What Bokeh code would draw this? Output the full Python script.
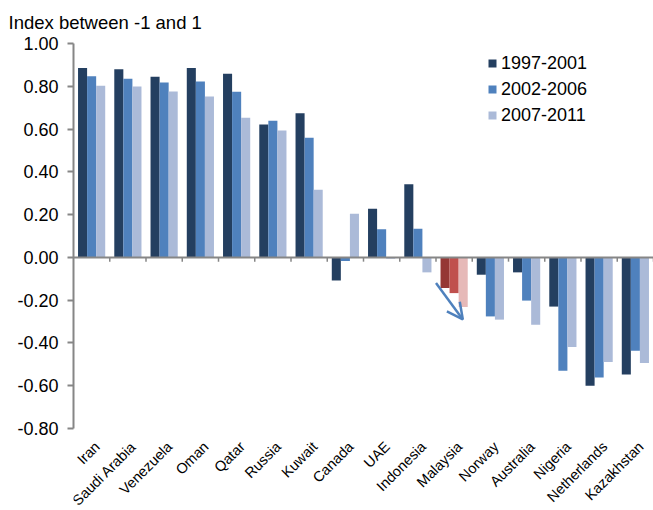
import numpy as np
from math import pi
from bokeh.plotting import figure
from bokeh.models import (Range1d, FixedTicker, NumeralTickFormatter, LinearAxis, Span,
                          Legend, LegendItem, Arrow, OpenHead, ColumnDataSource)
from bokeh.core.properties import value
from bokeh.embed import file_html
from bokeh.resources import INLINE

# ---------------- data ----------------
categories = ["Iran", "Saudi Arabia", "Venezuela", "Oman", "Qatar", "Russia", "Kuwait",
              "Canada", "UAE", "Indonesia", "Malaysia", "Norway", "Australia", "Nigeria",
              "Netherlands", "Kazakhstan"]
series_names = ["1997-2001", "2002-2006", "2007-2011"]
v_1997_2001 = [0.886, 0.880, 0.844, 0.886, 0.858, 0.621, 0.674, -0.108, 0.227, 0.342,
               -0.143, -0.081, -0.070, -0.230, -0.600, -0.548]
v_2002_2006 = [0.847, 0.835, 0.818, 0.822, 0.774, 0.639, 0.559, -0.017, 0.132, 0.134,
               -0.167, -0.276, -0.202, -0.530, -0.562, -0.436]
v_2007_2011 = [0.802, 0.799, 0.776, 0.752, 0.653, 0.593, 0.316, 0.204, -0.006, -0.070,
               -0.232, -0.291, -0.315, -0.419, -0.489, -0.494]
y_ticks = [-0.8, -0.6, -0.4, -0.2, 0.0, 0.2, 0.4, 0.6, 0.8, 1.0]
highlight = "Malaysia"
title_text = "Index between -1 and 1"

# annotation arrow (data coordinates)
arrow_start = (10.0, -0.12)
arrow_end = (10.74, -0.29)

# ---------------- style / layout ----------------
blues = ["#243F60", "#4F81BD", "#ABBAD8"]
reds = ["#953735", "#C0504D", "#E6B9B8"]
axis_gray = "#868686"
FONT = "Liberation Sans"
W, H = 653, 510
FRAME_TOP, LEFT = 40, 73     # frame top / left in px
TICK_TOP_PX, TICK_BOTTOM_PX = 43, 428   # pixel rows of highest / lowest y tick
units_per_px = (y_ticks[-1] - y_ticks[0]) / (TICK_BOTTOM_PX - TICK_TOP_PX)
y_lo = y_ticks[0] - (H - TICK_BOTTOM_PX) * units_per_px
y_hi = y_ticks[-1] + (TICK_TOP_PX - FRAME_TOP) * units_per_px

n = len(categories)
idx = np.arange(n)
centers = idx + 0.5

p = figure(width=W, height=H, output_backend="svg", toolbar_location=None,
           x_range=Range1d(0, n), y_range=Range1d(y_lo, y_hi),
           min_border_left=LEFT, min_border_right=0, min_border_top=FRAME_TOP,
           min_border_bottom=0, x_axis_location=None, y_axis_location=None)
p.outline_line_color = None
p.xgrid.visible = False
p.ygrid.visible = False

# title
p.title.text = title_text
p.title.text_font = FONT
p.title.text_font_size = "18.5px"
p.title.text_font_style = "normal"
p.title.text_color = "#000000"
p.title.align = "left"
p.title.offset = -65
p.title.standoff = 16

# y axis (limited to the tick span)
yaxis = LinearAxis(ticker=FixedTicker(ticks=y_ticks),
                   formatter=NumeralTickFormatter(format="0.00"),
                   bounds=(y_ticks[0], y_ticks[-1]))
yaxis.axis_line_color = axis_gray
yaxis.axis_line_width = 2
yaxis.major_tick_line_color = axis_gray
yaxis.major_tick_line_width = 2
yaxis.major_tick_in = 0
yaxis.major_tick_out = 6
yaxis.minor_tick_line_color = None
yaxis.major_label_standoff = 9
yaxis.major_label_text_font = FONT
yaxis.major_label_text_font_size = "18px"
yaxis.major_label_text_color = "#000000"
p.add_layout(yaxis, "left")

# bars
offsets = [-0.25, 0.0, 0.25]
renderers = []
for k, (name, vals) in enumerate(zip(series_names, [v_1997_2001, v_2002_2006, v_2007_2011])):
    colors = [reds[k] if c == highlight else blues[k] for c in categories]
    src = ColumnDataSource(dict(x=idx + 0.5 + offsets[k], top=vals, color=colors))
    r = p.vbar(x="x", top="top", bottom=0, width=0.25, source=src,
               fill_color="color", line_color=None)
    renderers.append(r)

# zero line with category boundary ticks
p.add_layout(Span(location=0, dimension="width", line_color=axis_gray, line_width=2))
bounds = idx + 1
p.segment(x0=bounds, y0=np.zeros(n), x1=bounds, y1=np.full(n, -0.02),
          line_color=axis_gray, line_width=1.5)

# rotated category labels below the lowest tick
lab_src = ColumnDataSource(dict(x=centers, y=np.full(n, y_ticks[0]), text=categories))
p.text(x="x", y="y", text="text", source=lab_src, angle=pi / 4,
       x_offset=0, y_offset=10, text_align="right", text_baseline="top",
       text_font=value(FONT), text_font_size="14.5px", text_color="#000000")

# arrow
p.add_layout(Arrow(x_start=arrow_start[0], y_start=arrow_start[1],
                   x_end=arrow_end[0], y_end=arrow_end[1],
                   line_color="#4F81BD", line_width=2.5,
                   end=OpenHead(size=16, line_color="#4F81BD", line_width=2.5)))

# legend
legend = Legend(items=[LegendItem(label=nm, renderers=[r], index=0)
                       for nm, r in zip(series_names, renderers)],
                location=(414, 384))
legend.border_line_color = None
legend.background_fill_alpha = 0
legend.padding = 0
legend.margin = 0
legend.glyph_width = 10
legend.glyph_height = 10
legend.label_standoff = 4
legend.label_height = 22
legend.spacing = 4
legend.label_text_font = FONT
legend.label_text_font_size = "18px"
legend.label_text_color = "#000000"
p.add_layout(legend)

open("out.html", "w").write(file_html(p, INLINE))
